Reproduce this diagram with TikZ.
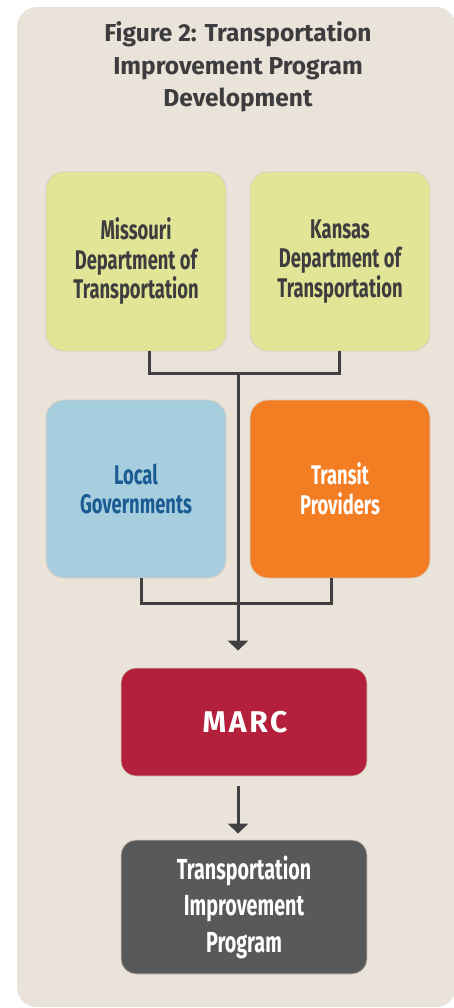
\documentclass[tikz,border=0pt]{standalone}
\usepackage{fontspec}
\setmainfont{Fira Sans}
\newfontfamily\condfont[FakeStretch=0.68]{Fira Sans}
\newfontfamily\wideBold[LetterSpace=9]{Fira Sans}
\usetikzlibrary{positioning,arrows.meta,calc}

\definecolor{panelBg}{HTML}{EAE3DA}
\definecolor{boxEdge}{HTML}{D8CDBD}
\definecolor{dotGreen}{HTML}{E1E595}
\definecolor{localBlue}{HTML}{A6CEDF}
\definecolor{localText}{HTML}{1A5B93}
\definecolor{transitOrange}{HTML}{F37D23}
\definecolor{marcRed}{HTML}{B41F3B}
\definecolor{tipGray}{HTML}{58595B}
\definecolor{linkGray}{HTML}{404041}
\definecolor{textGray}{HTML}{3D3D3F}

\tikzset{
  >={Triangle[length=10pt,width=20pt]},
  orgBox/.style={rounded corners=18pt,draw=boxEdge,line width=0.8pt,align=center,
    inner sep=0pt,minimum width=180pt,minimum height=179pt,
    font={\condfont\bfseries\fontsize{27}{29.5}\selectfont}},
  flowBox/.style={orgBox,rounded corners=15pt,minimum width=246pt},
  link/.style={draw=linkGray,line width=3pt},
}

\begin{document}
\begin{tikzpicture}[x=1pt,y=-1pt]
\useasboundingbox (0,0) rectangle (454,1008);

% backdrop panel
\fill[panelBg,rounded corners=20pt] (17,7) rectangle (456,1007);

% ===== Title =====
\node[align=center,text=textGray,inner sep=0pt,
  font={\bfseries\fontsize{24.5}{32.5}\selectfont}] (figTitle) at (238,67)
  {Figure 2: Transportation\\Improvement Program\\Development};

% ===== State DOTs =====
\node[orgBox,fill=dotGreen,text=textGray] (moDot) at (136,261.5)
  {Missouri\\Department of\\Transportation};
\node[orgBox,fill=dotGreen,text=textGray] (ksDot) at (340,261.5)
  {Kansas\\Department of\\Transportation};

% ===== Local partners =====
\node[orgBox,fill=localBlue,text=localText,minimum height=178pt] (localGov) at (136,489)
  {Local\\Governments};
\node[orgBox,fill=transitOrange,text=white,minimum height=178pt] (transit) at (340,489)
  {Transit\\Providers};

% ===== MARC and TIP =====
\node[flowBox,fill=marcRed,text=white,minimum height=108pt,
  font={\wideBold\bfseries\fontsize{30}{32}\selectfont}] (marc) at (244,722)
  {\hspace*{2pt}MARC};
\node[flowBox,fill=tipGray,text=white,minimum height=134pt,
  font={\condfont\bfseries\fontsize{29}{36.5}\selectfont}] (tipBox) at (244,907)
  {Transportation\\Improvement\\Program};

% ===== Connectors =====
\coordinate (spine) at (238,0);
\coordinate (joinDot) at (238,373);
\coordinate (joinLocal) at (238,603);

\draw[link] ([xshift=13pt]moDot.south) |- (joinDot) -| ([xshift=-1pt]ksDot.south);
\draw[link] ([xshift=5pt]localGov.south) |- (joinLocal) -| ([xshift=-9pt]transit.south);
\draw[link,->,shorten >=17pt] (joinDot) -- (marc.north -| spine);
\draw[link,->,shorten <=10pt,shorten >=6pt] (marc.south -| spine) -- (tipBox.north -| spine);

\end{tikzpicture}
\end{document}
